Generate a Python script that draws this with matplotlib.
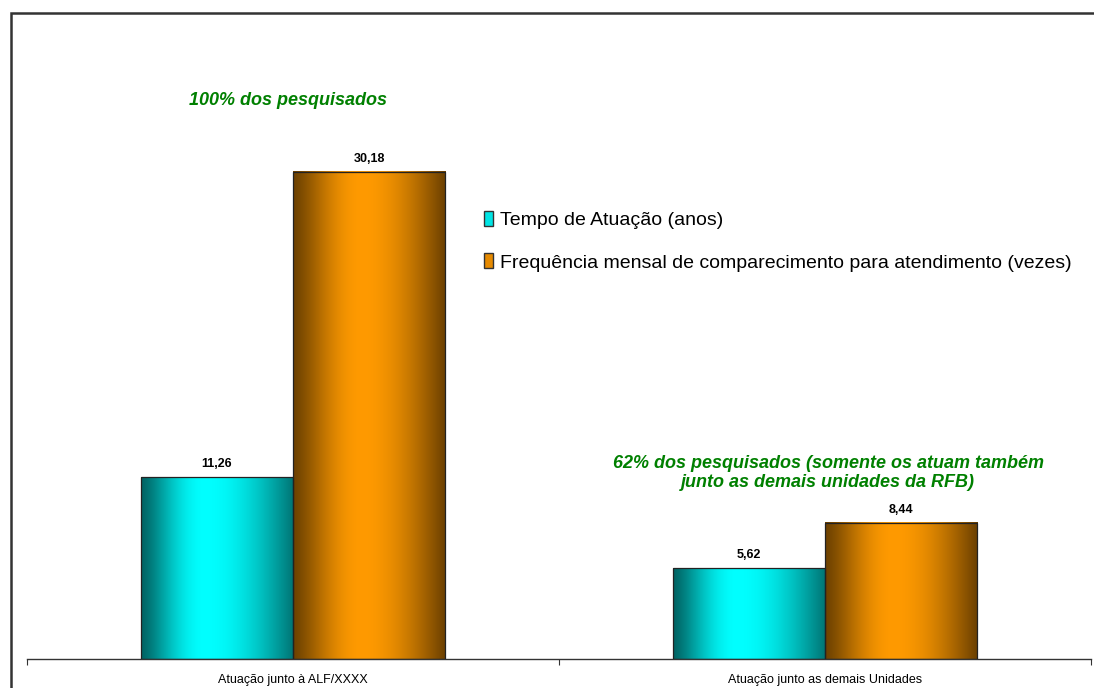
import numpy as np
import matplotlib
matplotlib.use("Agg")
import matplotlib.pyplot as plt
from matplotlib.patches import Patch, Rectangle
from matplotlib.colors import to_rgb

plt.rcParams['font.family'] = ['Liberation Sans', 'DejaVu Sans']

categories = ["Atuação junto à ALF/XXXX", "Atuação junto as demais Unidades"]
series_names = ["Tempo de Atuação (anos)",
                "Frequência mensal de comparecimento para atendimento (vezes)"]
tempo = [11.26, 5.62]
frequencia = [30.18, 8.44]
note_all = "100% dos pesquisados"
note_part = "62% dos pesquisados (somente os atuam também\njunto as demais unidades da RFB)"

W, H = 1094, 688
fig = plt.figure(figsize=(W / 100, H / 100), dpi=100)
ax = fig.add_axes([27 / W, (H - 659) / H, 1064 / W, 565 / H])
ax.set_xlim(-0.5, 1.5)
ax.set_ylim(0, 35)

def grad_cmap(dark_l, bright, dark_r, peak=0.45, n=256):
    t = np.linspace(0, 1, n)
    dl, b, dr = map(np.array, (to_rgb(dark_l), to_rgb(bright), to_rgb(dark_r)))
    img = np.zeros((1, n, 3))
    for i, tt in enumerate(t):
        if tt <= peak:
            f = np.sin(tt / peak * np.pi / 2) ** 1.3
            c = dl + (b - dl) * f
        else:
            f = np.cos((tt - peak) / (1 - peak) * np.pi / 2) ** 1.0
            c = dr + (b - dr) * f
        img[0, i] = c
    return img

teal_img = grad_cmap("#006464", "#00FFFF", "#007474", peak=0.42)
orange_img = grad_cmap("#6E4200", "#FF9A00", "#6A3F00", peak=0.45)

x = np.arange(len(categories))
bw = 0.286
series = [(tempo, -bw / 2, teal_img), (frequencia, bw / 2, orange_img)]
for vals, off, img in series:
    bars = ax.bar(x + off, vals, width=bw, facecolor="none", edgecolor="#222222",
                  linewidth=0.9, zorder=3)
    for b in bars:
        x0, y0 = b.get_x(), b.get_y()
        ax.imshow(img, extent=(x0, x0 + b.get_width(), y0, y0 + b.get_height()),
                  aspect="auto", zorder=2, interpolation="bilinear")
    ax.bar_label(bars, labels=[f"{v:.2f}".replace(".", ",") for v in vals],
                 padding=5, fontsize=9, fontweight="bold")

ax.set_xlim(-0.5, 1.5)
ax.set_ylim(0, 35)

for s in ("top", "right", "left"):
    ax.spines[s].set_visible(False)
ax.spines["bottom"].set_color("#333333")
ax.spines["bottom"].set_linewidth(1.0)
ax.set_yticks([])
ax.set_xticks([-0.5, 0.5, 1.5])
ax.set_xticklabels([])
ax.tick_params(axis="x", which="major", direction="out", length=4, color="#333333")
ax.set_xticks(x, minor=True)
ax.set_xticklabels(categories, minor=True, fontsize=9)
ax.tick_params(axis="x", which="minor", length=0, pad=11)

handles = [Patch(facecolor="#00E5E5", edgecolor="#333333"),
           Patch(facecolor="#E68A00", edgecolor="#333333")]
ax.legend(handles, series_names, loc="upper left", bbox_to_anchor=(0.422, 0.807),
          frameon=False, fontsize=14, handlelength=0.45, handleheight=0.8,
          handletextpad=0.4, labelspacing=1.25, borderaxespad=0)

green = "#008000"
ax.text(-0.01, 0.988, note_all, transform=ax.get_xaxis_transform(), ha="center", va="center",
        color=green, fontsize=13, fontweight="bold", fontstyle="italic")
ax.text(1.006, 0.33, note_part, transform=ax.get_xaxis_transform(), ha="center", va="center",
        color=green, fontsize=13, fontweight="bold", fontstyle="italic", linespacing=1.15)

fig.patches.append(Rectangle((11 / W, -0.1), 1.2, (H - 13) / H + 0.1,
                             transform=fig.transFigure, fill=False,
                             edgecolor="#333333", linewidth=1.8))

fig.savefig("out.png", dpi=100)
